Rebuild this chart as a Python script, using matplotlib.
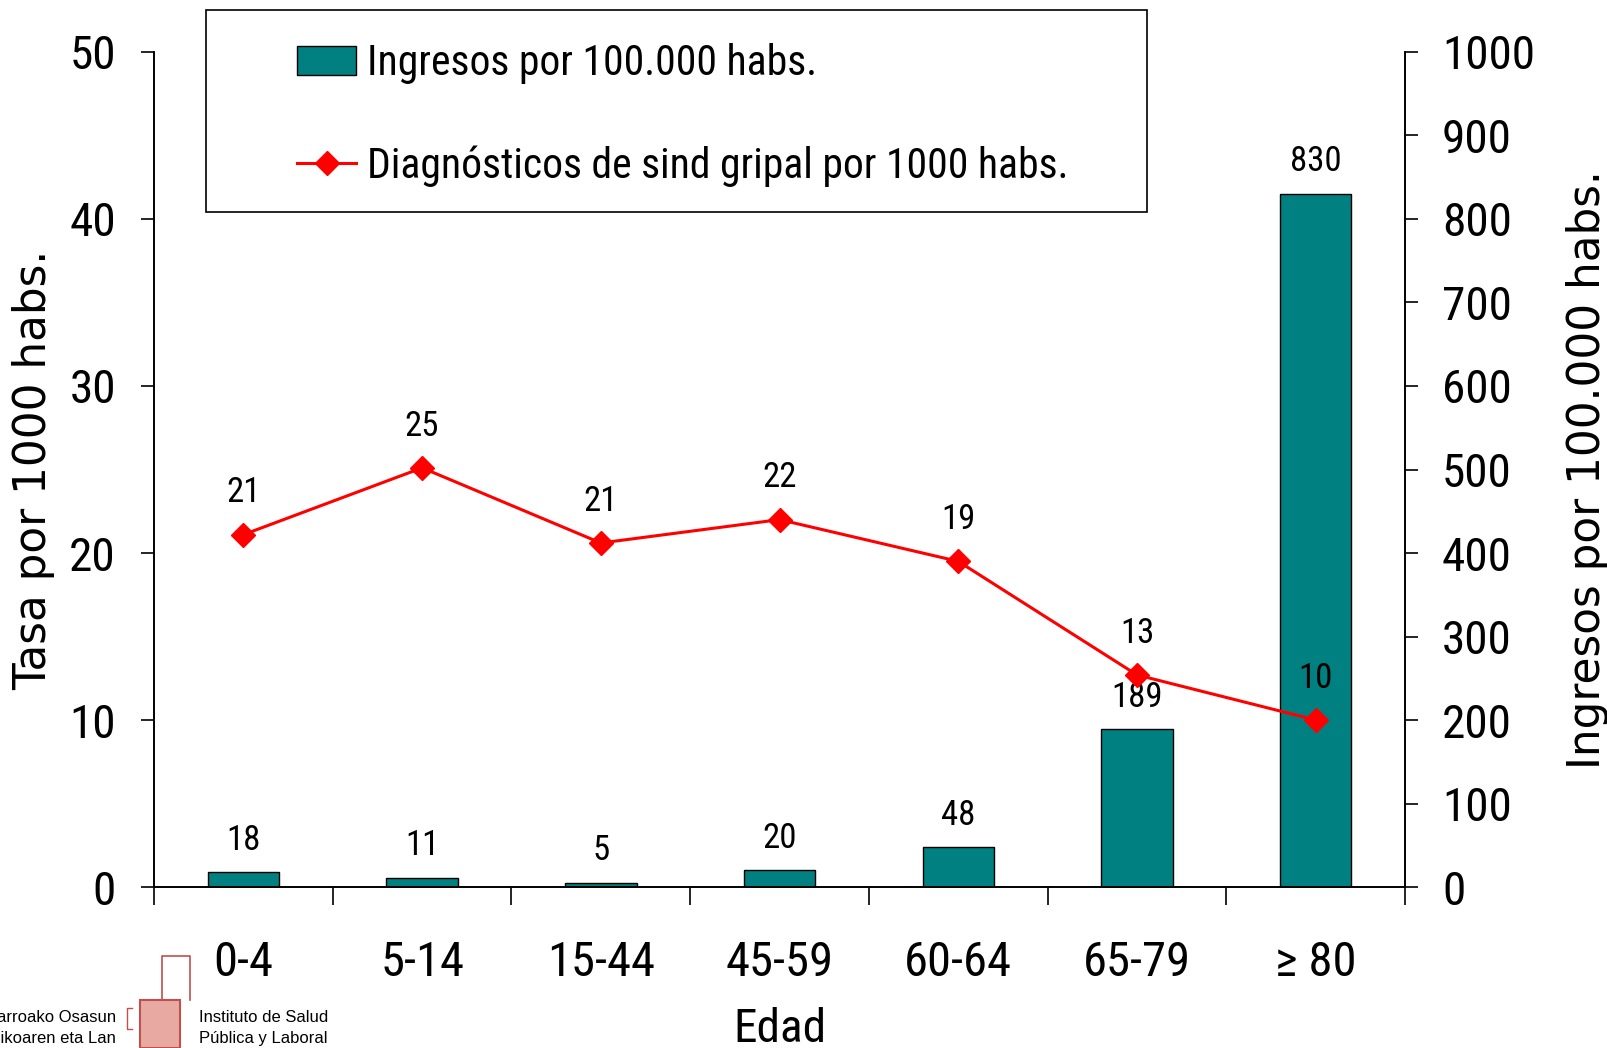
import matplotlib
matplotlib.use('Agg')
import matplotlib.pyplot as plt
import numpy as np

# age groups
edades = ['0-4', '5-14', '15-44', '45-59', '60-64', '65-79', '≥ 80']

# bars: ingresos por 100.000 habs (right axis)
ingresos = [18, 11, 5, 20, 48, 189, 830]

# line: diagnosticos de sind gripal por 1000 habs (left axis)
diagnosticos = [21.1, 25.1, 20.6, 22.0, 19.5, 12.7, 10.0]
diag_labels = ['21', '25', '21', '22', '19', '13', '10']

# horizontal text in the original looks squeezed, rotated text looks wide
NARROW = ['Roboto Condensed', 'PT Sans Narrow', 'DejaVu Sans']
WIDE = ['DejaVu Sans']
LOGO = ['Liberation Sans', 'DejaVu Sans']

TEAL = '#008080'
RED = '#ff0000'

fig = plt.figure(figsize=(16.08, 10.48), dpi=100)
ax = fig.add_axes([0.0958, 0.1536, 0.778, 0.7968])
ax2 = ax.twinx()

x = np.arange(len(edades))

# bars on the right axis, drawn below the line
ax2.bar(x, ingresos, width=0.4, color=TEAL, edgecolor='black', linewidth=1.0, zorder=2,
        label='Ingresos por 100.000 habs.')
ax2.set_ylim(0, 1000)
ax2.set_yticks(np.arange(0, 1001, 100))
for xi, v in zip(x, ingresos):
    ax2.annotate(str(v), (xi, v), xytext=(0, 23), textcoords='offset points',
                 ha='center', va='center', fontsize=25, family=NARROW)

# put the left axis (line) on top
ax.set_zorder(ax2.get_zorder() + 1)
ax.patch.set_visible(False)

ax.plot(x, diagnosticos, color=RED, linewidth=2.2, marker='D', markersize=12,
        label='Diagnósticos de sind gripal por 1000 habs.', zorder=3)
for xi, v, lab in zip(x, diagnosticos, diag_labels):
    ax.annotate(lab, (xi, v), xytext=(0, 30), textcoords='offset points',
                ha='center', va='center', fontsize=25, family=NARROW)

ax.set_ylim(0, 50)
ax.set_yticks(np.arange(0, 51, 10))
ax.set_xlim(-0.5, len(edades) - 0.5)
ax.set_xticks(x)
ax.set_xticklabels(edades, family=NARROW, fontsize=35)
ax.set_xticks(np.arange(-0.5, len(edades), 1), minor=True)
ax.tick_params(axis='x', which='major', length=0, pad=38)
ax.tick_params(axis='x', which='minor', length=13, width=1.2, direction='out')

for a in (ax, ax2):
    a.spines['top'].set_visible(False)
    for s in a.spines.values():
        s.set_linewidth(1.2)
ax.tick_params(axis='y', length=9.5, width=1.2, labelsize=34, pad=18)
ax2.tick_params(axis='y', length=9.5, width=1.2, labelsize=34, pad=17)
for lab in ax.get_yticklabels() + ax2.get_yticklabels():
    lab.set_family(NARROW)

ax.set_ylabel('Tasa por 1000 habs.', fontsize=31.5, family=WIDE)
ax.yaxis.set_label_coords(-0.079, 0.5)
ax2.set_ylabel('Ingresos por 100.000 habs.', fontsize=31.5, family=WIDE)
ax2.yaxis.set_label_coords(1.1285, 0.5)
ax.set_xlabel('Edad', fontsize=34, family=NARROW)
ax.xaxis.set_label_coords(0.5, -0.1436)

# legend: frame drawn separately so the entries can sit inset like the original
h1, l1 = ax2.get_legend_handles_labels()
h2, l2 = ax.get_legend_handles_labels()
leg = fig.legend(h1 + h2, l1 + l2, loc='upper left', bbox_to_anchor=(0.185, 0.959),
                 prop={'family': NARROW, 'size': 30}, frameon=False,
                 borderpad=0, labelspacing=1.47, handlelength=1.4,
                 handletextpad=0.28, borderaxespad=0)
fig.add_artist(plt.Rectangle((0.128, 0.798), 0.585, 0.192, transform=fig.transFigure,
                             facecolor='none', edgecolor='black', linewidth=1.2))

# institute logo (bottom-left)
LOGO_RED = '#c0504d'
fig.text(0.072, 0.029, 'Nafarroako Osasun', ha='right', va='center', fontsize=12, family=LOGO)
fig.text(0.072, 0.0095, 'Publikoaren eta Lan', ha='right', va='center', fontsize=12, family=LOGO)
fig.text(0.124, 0.029, 'Instituto de Salud', ha='left', va='center', fontsize=12, family=LOGO)
fig.text(0.124, 0.0095, 'Pública y Laboral', ha='left', va='center', fontsize=12, family=LOGO)
fig.add_artist(plt.Rectangle((0.087, 0.0), 0.025, 0.046, transform=fig.transFigure,
                             facecolor='#e8a9a3', edgecolor=LOGO_RED, linewidth=1.5))
fig.add_artist(plt.Line2D([0.101, 0.101, 0.118, 0.118], [0.046, 0.088, 0.088, 0.046],
                          transform=fig.transFigure, color=LOGO_RED, linewidth=1.2))
fig.add_artist(plt.Line2D([0.082, 0.079, 0.079, 0.082], [0.038, 0.038, 0.018, 0.018],
                          transform=fig.transFigure, color=LOGO_RED, linewidth=1.0))

fig.savefig('out.png', dpi=100)
